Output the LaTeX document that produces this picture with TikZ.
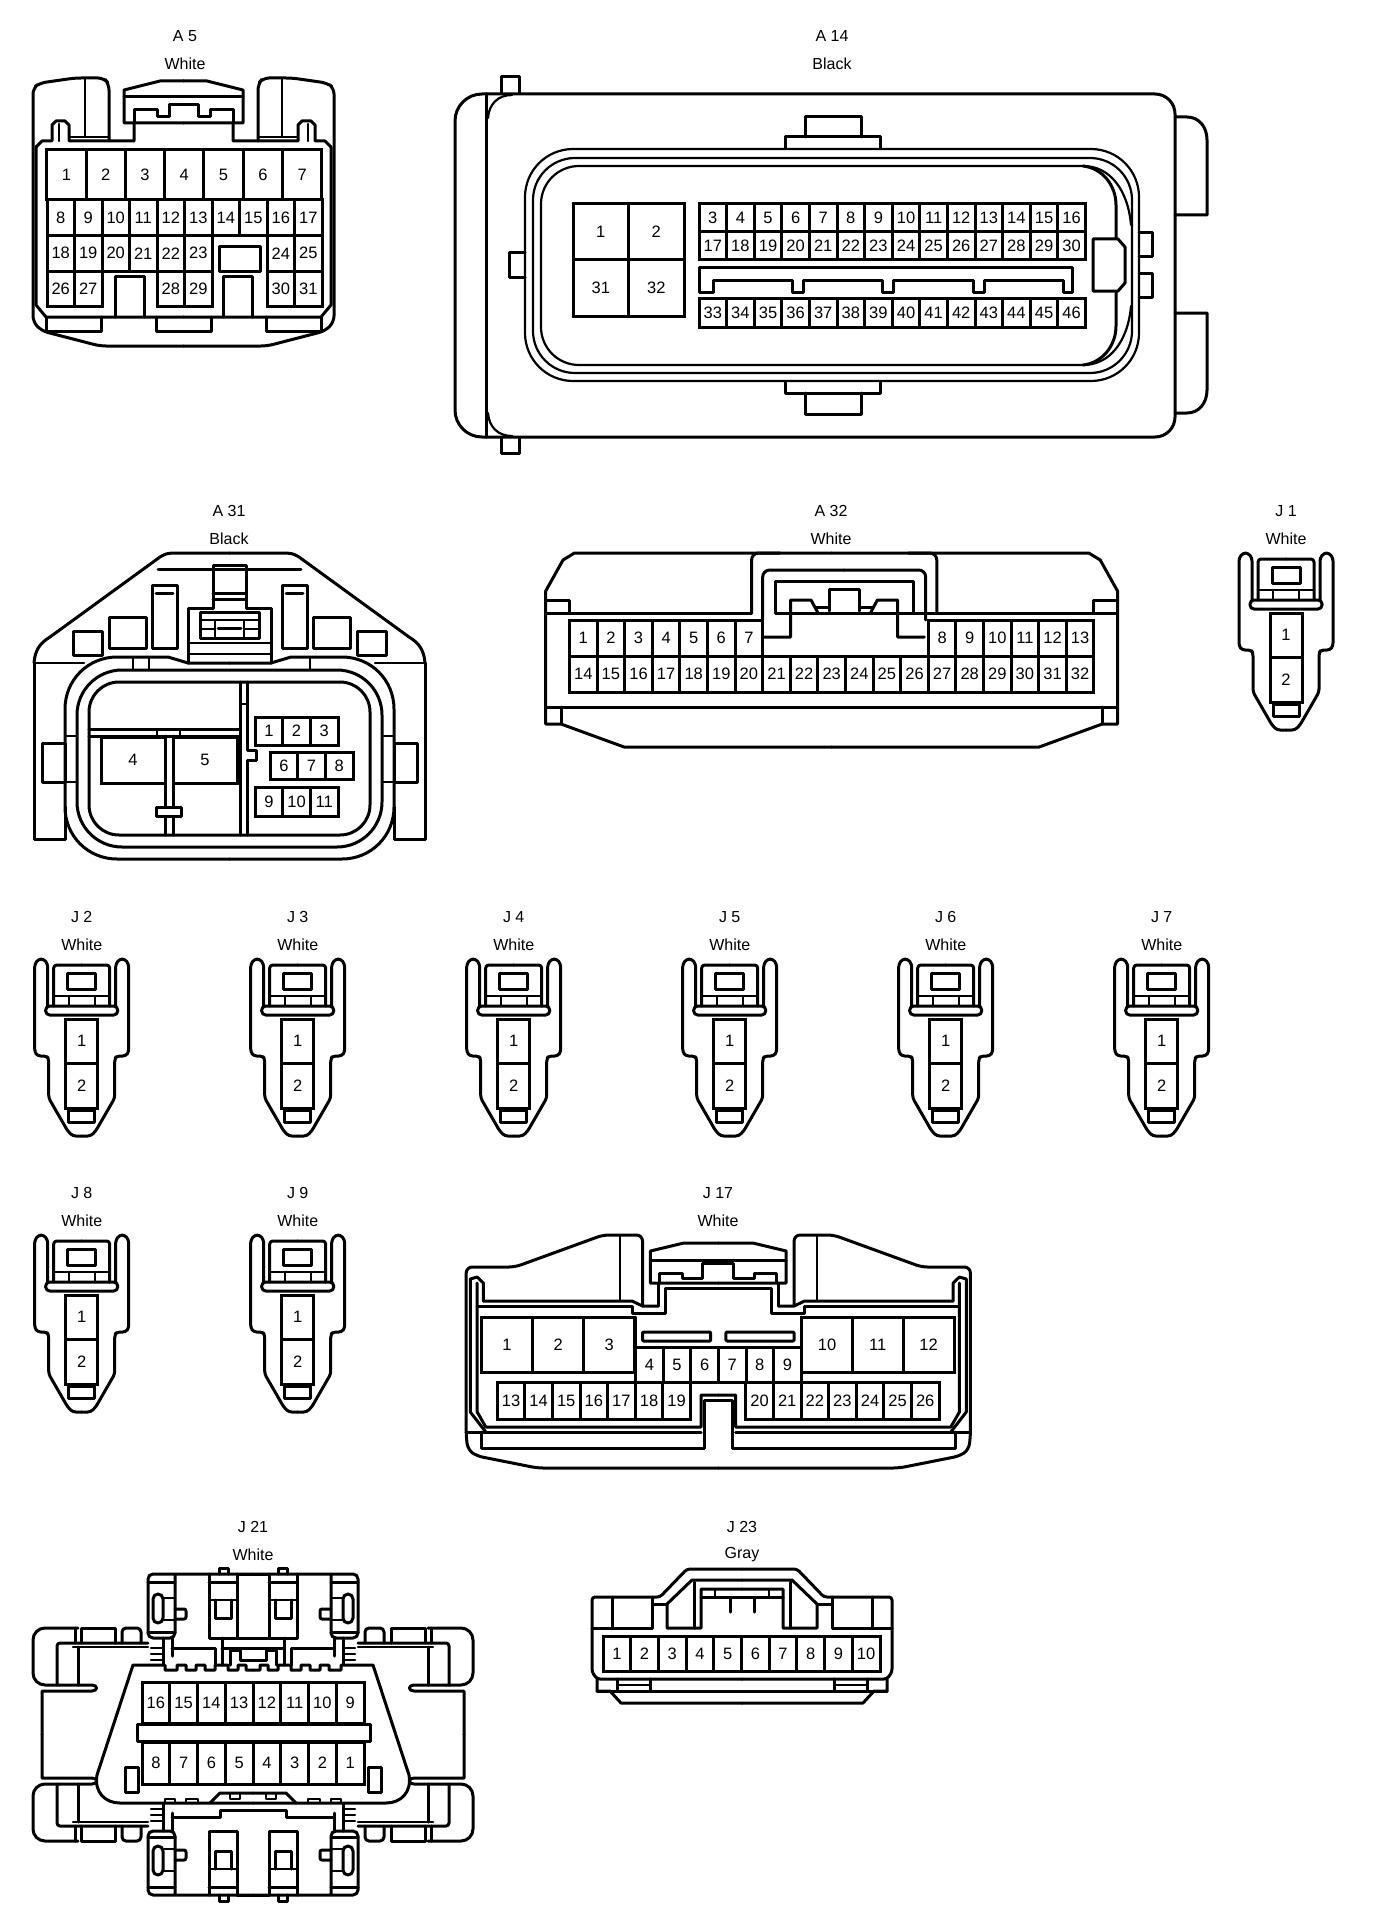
\documentclass[tikz,border=0pt]{standalone}
\usepackage{fontspec}
\setmainfont{Liberation Sans}
\tikzset{
  x=1pt,y=-1pt,
  ln/.style={line width=3pt,line join=round,line cap=round},
  tn/.style={line width=2.2pt,line join=round,line cap=round},
  rc/.style={rounded corners=#1pt},
  mirx/.style={shift={(#1,0)},xscale=-1},
  miry/.style={shift={(0,#1)},yscale=-1},
  pincell/.style={draw,line width=3pt,inner sep=0pt,outer sep=0pt,anchor=north west,font=\fontsize{16.5}{17}\selectfont},
  lab/.style={inner sep=0pt,font=\fontsize{16}{16}\selectfont}
}
% prefix, x0, dx, ytop, height, labels
\newcommand{\pinrow}[6]{%
  \foreach \lab [count=\k from 0] in {#6}{%
    \pgfmathsetmacro\xx{#2+\k*(#3)}%
    \node[pincell,minimum width=#3pt,minimum height=#5pt] (#1-\lab) at (\xx,#4) {\lab};
  }%
}
\newcommand{\conlabel}[5]{%
  \node[lab] (#1-id) at (#2,#3) {#4};
  \pgfmathsetmacro\yy{#3+27.5}%
  \node[lab] (#1-col) at (#2,\yy) {#5};
}
\newcommand{\halfAfive}{%
  \draw[ln,rc=6] (183.5,346)--(100,346)--(42,331)--(33,322)--(33,88)--(40,83)--(75,78)--(104,78)--(109,84)--(109,141);
  \draw[ln] (36,147)--(42,141)--(52,141)--(52,125)--(56,121)--(65,121)--(69,125)--(69,141)--(134,141)--(134,123);
  \draw[ln] (36,147)--(36,305)--(46,317)--(183.5,317);
  \draw[tn] (85,78)--(85,137) (69,137)--(109,137) (59,124)--(59,141);
  \draw[ln] (183.5,81)--(160,81)--(124,90)--(124,123)--(183.5,123);
  \draw[ln] (124,97)--(183.5,97);
  \draw[ln] (134,123)--(134,110)--(157,110)--(157,117)--(169,117)--(169,105)--(183.5,105);
  \draw[ln] (46,317)--(46,331)--(101,331)--(101,317);
  \draw[ln] (156,317)--(156,331)--(183.5,331);
  \draw[ln] (115,317)--(115,276)--(144,276)--(144,317);
}
\newcommand{\halfAthirtyone}{%
  \draw[ln] (34,663) .. controls (35,650) and (40,643) .. (50,637) -- (160,557) .. controls (165,554) and (168,553) .. (172,553) -- (229.5,553);
  \draw[ln] (34,663)--(34,839)--(65,839)--(65,807);
  \draw[tn] (34,663)--(84,663);
  \draw[ln] (229.5,663)--(188,663)--(168,657)--(117,657) .. controls (88,657) and (65,680) .. (65,709) -- (65,807) .. controls (65,836) and (88,859) .. (117,859) -- (229.5,859);
  \draw[ln] (152,585) rectangle (177,648);
  \draw[ln] (156,593)--(173,593);
  \draw[ln] (109,617) rectangle (146,648);
  \draw[ln] (73,631) rectangle (102,655);
  \draw[ln] (42,743) rectangle (65,782);
  \draw[tn] (65,736)--(77,736) (65,782)--(77,782);
  \draw[ln] (229.5,569)--(158,569);
  \draw[ln] (229.5,565)--(213,565)--(213,608)--(188,608)--(188,663);
  \draw[ln] (213,593)--(229.5,593) (213,599)--(229.5,599);
  \draw[ln] (229.5,612)--(200,612)--(200,638)--(229.5,638);
  \draw[tn] (200,620)--(229.5,620) (200,629)--(215,629) (215,620)--(215,638);
  \draw[tn] (188,643)--(229.5,643) (188,654)--(229.5,654);
  \draw[ln] (218,628)--(229.5,628);
}
\newcommand{\halfAthirtytwo}{%
  \draw[ln] (831.6,553)--(574.5,553)--(563,560)--(545.7,591)--(545.7,724)--(561,724)--(624,747)--(831.6,747);
  \draw[ln] (545.7,600)--(569.5,600)--(569.5,613);
  \draw[ln] (545.7,613)--(751.6,613);
  \draw[ln] (545.7,707)--(831.6,707);
  \draw[ln] (561,707)--(561,724);
}
\newcommand{\archAthirtytwo}{%
  \draw[ln,rc=7] (751.6,613)--(751.6,553)--(780,553);
  \draw[ln,rc=7] (762.7,620)--(762.7,570)--(844.2,570);
  \draw[ln] (844.2,581)--(775.4,581)--(775.4,613)--(844.2,613);
  \draw[ln] (829,611)--(829,589)--(844.2,589);
  \draw[ln] (764,637)--(790.7,637)--(790.7,600)--(811,600)--(817.5,612);
  \draw[ln] (815.5,607)--(829,607);
}
\newcommand{\halfJ}{%
  \draw[ln,rc=3] (0,177)--(9,177)--(14,172)--(33,139)--(33,100)--(35,97)--(44,97)--(47,93)--(47,5)--(43,0)--(38,0)--(34,5)--(34,47);
  \draw[ln,rc=3] (0,6)--(28,6)--(28,47);
  \draw[tn] (13,37)--(13,47);
}
\newcommand{\jconn}[3]{% name cx top
  \begin{scope}[shift={(#2,#3)}]
    \halfJ
    \begin{scope}[xscale=-1]\halfJ\end{scope}
    \draw[ln,rc=4] (-36,47) rectangle (36,56);
    \draw[ln] (-14,14) rectangle (14,30);
    \draw[tn] (-28,37)--(28,37);
    \pinrow{#1}{-16}{32}{60}{44.5}{1}
    \node[pincell,minimum width=32pt,minimum height=44.5pt] (#1-2) at (-16,104.5) {2};
    \draw[ln] (-13,151) rectangle (13,163);
  \end{scope}
}
\newcommand{\halfJseventeen}{%
  \draw[ln,rc=6] (718.3,1468)--(537.5,1468)--(477,1456)--(468,1450)--(466.2,1437)--(466.2,1267)--(515,1267)--(603,1235)--(642.5,1235)--(642.5,1306);
  \draw[tn] (620,1235)--(620,1301);
  \draw[ln] (718.3,1243)--(683.8,1243)--(650.4,1251)--(650.4,1283)--(718.3,1283);
  \draw[ln] (650.4,1260)--(718.3,1260);
  \draw[ln] (659.7,1282)--(659.7,1273)--(682,1273)--(682,1278)--(702.8,1278)--(702.8,1263)--(718.3,1263);
  \draw[ln] (658,1283)--(658,1306);
  \draw[ln] (718.3,1288)--(665.6,1288)--(665.6,1313)--(632,1313)--(632,1306)--(477.2,1306);
  \draw[ln] (483.4,1301)--(632,1301)--(642.5,1306)--(658,1306);
  \draw[ln] (470.3,1412)--(470.3,1279)--(477.2,1277)--(483.4,1283)--(483.4,1301);
  \draw[ln] (477.2,1283)--(477.2,1412)--(485.8,1427)--(701,1427)--(701,1395)--(718.3,1395);
  \draw[ln] (470.3,1412)--(485.8,1432);
  \draw[ln] (466.2,1432)--(701,1432);
  \draw[ln] (481.3,1432)--(481.3,1448)--(704.5,1448)--(704.5,1400)--(718.3,1400);
  \draw[ln,rc=1] (642.5,1332) rectangle (710.7,1341);
}
\newcommand{\halfJtwentythree}{%
  \draw[ln,rc=3] (742,1679)--(597,1679)--(592,1672)--(592,1597)--(660,1597)--(687,1569)--(742,1569);
  \draw[ln] (597,1679)--(597,1691)--(610,1691)--(621,1703)--(742,1703);
  \draw[ln] (597,1691)--(742,1691);
  \draw[ln] (617,1679)--(617,1691) (650,1679)--(650,1691);
  \draw[tn] (617,1685)--(650,1685);
  \draw[ln] (612,1597)--(612,1628);
  \draw[ln] (652,1597)--(652,1628)--(592,1628);
  \draw[ln] (653,1604)--(667,1604);
  \draw[ln] (742,1580)--(692,1580)--(667,1604)--(667,1628)--(701,1628)--(701,1589)--(742,1589);
  \draw[ln] (694,1582)--(694,1628);
  \draw[ln] (701,1597)--(742,1597);
  \draw[tn] (715,1589)--(715,1597);
  \draw[ln] (730,1598)--(730,1612);
}
\newcommand{\quadJtwentyone}{%
  \draw[ln,rc=5] (253,1574)--(148,1574)--(148,1638)--(175,1638)--(175,1574);
  \draw[ln] (148,1582)--(175,1582) (148,1632)--(175,1632);
  \draw[tn] (163,1598)--(175,1598) (163,1620)--(175,1620);
  \draw[ln,rc=5] (153,1594) rectangle (163,1623);
  \draw[ln,rc=2] (175,1609)--(186,1609)--(186,1619)--(175,1619);
  \draw[ln] (209,1574)--(209,1638)--(237,1638)--(237,1574);
  \draw[ln] (209,1582)--(237,1582);
  \draw[tn] (209,1600)--(237,1600);
  \draw[ln] (215,1600)--(215,1618)--(231,1618)--(231,1600);
  \draw[ln] (219,1574)--(219,1568)--(228,1568)--(228,1574);
  \draw[tn] (151,1648)--(163,1648) (151,1654)--(163,1654) (151,1660)--(163,1660);
  \draw[ln] (163,1638)--(163,1665) (172,1638)--(172,1656);
  \draw[ln,rc=12] (78,1628)--(33,1628)--(33,1685)--(60,1685);
  \draw[ln] (60,1685)--(92,1685) .. controls (98,1685) and (98,1691) .. (92,1691) -- (42,1691) -- (42,1734.5);
  \draw[ln] (81,1643)--(81,1628)--(115,1628)--(115,1643);
  \draw[ln,rc=4] (122,1643)--(122,1628)--(141,1628)--(141,1643);
  \draw[ln,rc=3] (57,1685)--(57,1643)--(148,1643);
  \draw[tn] (73,1647)--(148,1647);
  \draw[ln] (78,1647)--(78,1685);
  \draw[ln] (75,1628)--(75,1643);
}
\newcommand{\halfTrapTop}{%
  \draw[ln] (253,1670)--(246,1670)--(246,1665)--(238,1665)--(238,1670)--(228,1670)--(228,1665)--(215,1665)--(215,1670)--(205,1670)--(205,1665)--(196,1665)--(196,1670)--(186,1670)--(186,1665)--(177,1665)--(177,1670)--(165,1670)--(165,1665)--(133,1665)--(97,1775) .. controls (94,1792) and (105,1803) .. (120,1803) -- (253,1803);
  \draw[ln] (125,1767) rectangle (138,1792);
  \draw[tn] (165,1803)--(165,1799)--(175,1799)--(175,1803) (186,1803)--(186,1799)--(198,1799)--(198,1803) (230,1793)--(230,1799)--(240,1799)--(240,1793);
  \draw[ln] (210,1803)--(220,1793)--(253,1793);
}
\newcommand{\halfTopCenter}{%
  \draw[ln] (172,1648)--(215,1648)--(215,1665);
  \draw[ln] (222,1638)--(222,1665);
  \draw[ln] (222,1638)--(253,1638) (222,1648)--(253,1648);
  \draw[ln] (230,1665)--(230,1650)--(240,1650)--(240,1660)--(253,1660);
}
\begin{document}
\begin{tikzpicture}
\useasboundingbox (0,0) rectangle (1376,1926);
\fill[white] (0,0) rectangle (1376,1926);

%% A5
\conlabel{a5}{185}{36}{A 5}{White}
\halfAfive
\begin{scope}[mirx=367]\halfAfive\end{scope}
\pinrow{a5}{46.7}{39.3}{150}{49.5}{1,2,3,4,5,6,7}
\pinrow{a5}{47}{27.5}{200}{35.5}{8,9,10,11,12,13,14,15,16,17}
\pinrow{a5}{47}{27.5}{235.5}{35.5}{18,19,20,21,22,23}
\pinrow{a5}{267}{27.5}{235.5}{35.5}{24,25}
\pinrow{a5}{47}{27.5}{271}{35}{26,27}
\pinrow{a5}{157}{27.5}{271}{35}{28,29}
\pinrow{a5}{267}{27.5}{271}{35}{30,31}
\draw[ln] (219,247) rectangle (260,271);

%% A14
\conlabel{a14}{832}{36}{A 14}{Black}
\draw[ln,rc=27] (486,94)--(455,94)--(455,437)--(486,437);
\draw[ln,rc=20] (486,94)--(1175,94)--(1175,437)--(486,437);
\draw[ln] (486,94)--(486,437);
\draw[tn] (488,118) .. controls (489,104) and (498,95) .. (512,95);
\draw[tn] (488,413) .. controls (489,427) and (498,436) .. (512,436);
\draw[ln] (501,93)--(501,77)--(519,77)--(519,93);
\draw[ln] (501,438)--(501,453)--(519,453)--(519,438);
\draw[ln] (525,253)--(509,253)--(509,277)--(525,277);
\draw[ln] (785,148)--(785,137)--(880,137)--(880,148);
\draw[ln] (805,137)--(805,117)--(861,117)--(861,137);
\draw[ln] (785,382)--(785,393)--(880,393)--(880,382);
\draw[ln] (805,393)--(805,414)--(861,414)--(861,393);
\draw[ln] (1175,117)--(1187,117) .. controls (1199,117) and (1207,127) .. (1207,140) -- (1207,215)--(1175,215);
\draw[ln] (1175,313)--(1207,313)--(1207,390) .. controls (1207,403) and (1199,413) .. (1187,413) -- (1175,413);
\draw[ln] (1139,233)--(1152,233)--(1152,257)--(1139,257);
\draw[ln] (1139,273)--(1152,273)--(1152,297)--(1139,297);
\draw[tn,rc=48] (525,149) rectangle (1139,381);
\draw[tn,rc=42] (533,158) rectangle (1132,373);
\draw[tn,rc=38] (1083,166)--(541,166)--(541,365)--(1083,365);
\draw[tn] (1083,166) .. controls (1110,166) and (1128,190) .. (1131,225);
\draw[tn] (1083,365) .. controls (1110,365) and (1128,341) .. (1131,306);
\draw[ln] (1116,239)--(1116,205) .. controls (1116,185) and (1102,168) .. (1083,166);
\draw[ln] (1116,291)--(1116,326) .. controls (1116,346) and (1102,363) .. (1083,365);
\draw[ln,fill=white] (1093,239)--(1118,239)--(1125,247)--(1125,283)--(1118,291)--(1093,291)--cycle;
\pinrow{a14}{573}{55.5}{204}{56}{1,2}
\pinrow{a14}{573}{55.5}{260}{56}{31,32}
\pinrow{a14}{699}{27.6}{204}{28}{3,4,5,6,7,8,9,10,11,12,13,14,15,16}
\pinrow{a14}{699}{27.6}{232}{28}{17,18,19,20,21,22,23,24,25,26,27,28,29,30}
\pinrow{a14}{699}{27.6}{298}{29}{33,34,35,36,37,38,39,40,41,42,43,44,45,46}
\draw[ln] (699,267)--(1072,267)--(1072,292)--(1063,292)--(1063,280)--(984,280)--(984,292)--(973,292)--(973,280)--(893,280)--(893,292)--(882,292)--(882,280)--(803,280)--(803,292)--(792,292)--(792,280)--(713,280)--(713,292)--(699,292)--cycle;

%% A31
\conlabel{a31}{229}{511}{A 31}{Black}
\halfAthirtyone
\begin{scope}[mirx=459]\halfAthirtyone\end{scope}
\draw[ln,rc=45] (77,670) rectangle (382,847);
\draw[ln,rc=30] (89,682) rectangle (370,835);
\draw[tn] (133,657)--(133,669) (149,657)--(149,669) (310,657)--(310,669);
\draw[ln] (240,682)--(240,835) (247,682)--(247,750)--(256,750)--(256,760)--(247,760)--(247,835);
\draw[tn] (240,704)--(247,704);
\draw[ln] (89,729)--(240,729) (89,736)--(240,736);
\draw[tn] (157,729)--(157,736) (180,729)--(180,736);
\draw[ln] (165,736)--(165,835) (173,736)--(173,835);
\node[pincell,minimum width=64pt,minimum height=46pt] (a31-4) at (101,737) {4};
\node[pincell,minimum width=64pt,minimum height=46pt] (a31-5) at (173,737) {5};
\draw[ln,fill=white] (156,807) rectangle (181,816);
\pinrow{a31}{255}{27.7}{717}{28}{1,2,3}
\pinrow{a31}{270}{27.7}{752}{27}{6,7,8}
\pinrow{a31}{255}{27.7}{787}{29}{9,10,11}

%% A32
\conlabel{a32}{831}{511}{A 32}{White}
\halfAthirtytwo
\begin{scope}[mirx=1663.2]\halfAthirtytwo\end{scope}
\archAthirtytwo
\begin{scope}[mirx=1688.4]\archAthirtytwo\end{scope}
\pinrow{a32}{569.5}{27.6}{620}{36}{1,2,3,4,5,6,7}
\pinrow{a32}{928.3}{27.6}{620}{36}{8,9,10,11,12,13}
\pinrow{a32}{569.5}{27.6}{656}{36}{14,15,16,17,18,19,20,21,22,23,24,25,26,27,28,29,30,31,32}

%% J connectors
\conlabel{j1}{1286}{511}{J 1}{White}
\jconn{j1}{1286}{553}
\conlabel{j2}{81.7}{917}{J 2}{White}
\jconn{j2}{81.7}{959}
\conlabel{j3}{297.7}{917}{J 3}{White}
\jconn{j3}{297.7}{959}
\conlabel{j4}{513.7}{917}{J 4}{White}
\jconn{j4}{513.7}{959}
\conlabel{j5}{729.7}{917}{J 5}{White}
\jconn{j5}{729.7}{959}
\conlabel{j6}{945.7}{917}{J 6}{White}
\jconn{j6}{945.7}{959}
\conlabel{j7}{1161.7}{917}{J 7}{White}
\jconn{j7}{1161.7}{959}
\conlabel{j8}{81.7}{1193}{J 8}{White}
\jconn{j8}{81.7}{1235}
\conlabel{j9}{297.7}{1193}{J 9}{White}
\jconn{j9}{297.7}{1235}

%% J17
\conlabel{j17}{718}{1193}{J 17}{White}
\halfJseventeen
\begin{scope}[mirx=1436.6]\halfJseventeen\end{scope}
\draw[ln] (635.6,1317)--(635.6,1347)--(801,1347)--(801,1317);
\pinrow{j17}{481.3}{51.2}{1317}{55}{1,2,3}
\pinrow{j17}{801.6}{50.8}{1317}{55}{10,11,12}
\pinrow{j17}{635.6}{27.6}{1347}{35}{4,5,6,7,8,9}
\pinrow{j17}{497.2}{27.6}{1382}{37}{13,14,15,16,17,18,19}
\pinrow{j17}{745.8}{27.6}{1382}{37}{20,21,22,23,24,25,26}

%% J21
\conlabel{j21}{253}{1527}{J 21}{White}
\quadJtwentyone
\begin{scope}[mirx=506]\quadJtwentyone\end{scope}
\begin{scope}[miry=3469]\quadJtwentyone\end{scope}
\begin{scope}[mirx=506,miry=3469]\quadJtwentyone\end{scope}
\draw[ln] (237,1574)--(269,1574);
\draw[ln] (237,1895)--(269,1895);
\fill[white] (133,1665)--(97,1775)--(120,1803)--(386,1803)--(409,1775)--(373,1665)--cycle;
\halfTrapTop
\begin{scope}[mirx=506]\halfTrapTop\end{scope}
\halfTopCenter
\begin{scope}[mirx=506]\halfTopCenter\end{scope}
\draw[ln] (172,1817)--(220,1817)--(220,1810)--(286,1810)--(286,1817)--(334,1817);
\pinrow{j21}{142}{27.75}{1682}{41}{16,15,14,13,12,11,10,9}
\draw[ln] (137,1724) rectangle (370,1741);
\pinrow{j21}{142}{27.75}{1742}{42}{8,7,6,5,4,3,2,1}

%% J23
\conlabel{j23}{742}{1527}{J 23}{Gray}
\halfJtwentythree
\begin{scope}[mirx=1484]\halfJtwentythree\end{scope}
\pinrow{j23}{603}{27.7}{1636}{35}{1,2,3,4,5,6,7,8,9,10}
\end{tikzpicture}
\end{document}
